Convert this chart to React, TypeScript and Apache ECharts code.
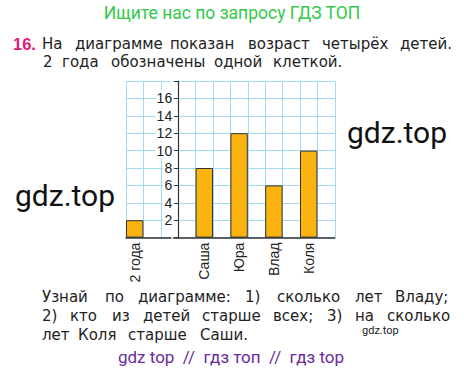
import React, { useEffect, useRef } from "react";
import * as echarts from "echarts";

// ---- data ----
const categories = ["2 года", "", "", "", "Саша", "", "Юра", "", "Влад", "", "Коля", ""];
const ages: (number | string)[] = [2, "-", "-", "-", 8, "-", 12, "-", 6, "-", 10, "-"];
const yMin = 0;
const yMax = 18;
const yStep = 2;

const titleText = "Ищите нас по запросу ГДЗ ТОП";
const taskNumber = "16.";
const introLine1 = ["На", "диаграмме", "показан", "возраст", "четырёх", "детей."];
const introLine2 = ["2", "года", "обозначены", "одной", "клеткой."];
const qLine1 = ["Узнай", "по", "диаграмме:", "1)", "сколько", "лет", "Владу;"];
const qLine2 = ["2)", "кто", "из", "детей", "старше", "всех;", "3)", "на", "сколько"];
const qLine3 = ["лет", "Коля", "старше", "Саши."];
const watermark = "gdz.top";
const footer = "gdz top  //  гдз топ  //  гдз top";

// ---- layout ----
const X1 = [42, 75, 170, 248, 322, 400];
const X2 = [43, 62, 111, 214, 273];
const Q1 = [42, 105, 138, 245, 277, 355, 395];
const Q2 = [42, 70, 112, 143, 202, 273, 327, 355, 387];
const Q3 = [42, 78, 128, 200];

const TXT = "#222";
const PFONT = "DejaVu Sans";

function words(list: string[], xs: number[], y: number) {
  return list.map((w, i) => ({
    type: "text",
    x: xs[i],
    y,
    style: {
      text: w,
      fill: TXT,
      font: `15px '${PFONT}'`,
      textVerticalAlign: "middle",
    },
  }));
}

export default function App() {
  const ref = useRef<HTMLDivElement>(null);
  useEffect(() => {
    if (!ref.current) return;
    const chart = echarts.init(ref.current, null, { renderer: "svg" });
    const cell = 17.4;
    const gridLeft = 126;
    const gridTop = 81;
    const option: any = {
      animation: false,
      backgroundColor: "#fff",
      grid: {
        left: gridLeft,
        top: gridTop,
        width: cell * categories.length,
        height: cell * ((yMax - yMin) / yStep),
      },
      xAxis: {
        type: "category",
        data: categories,
        boundaryGap: true,
        axisLine: { show: true, lineStyle: { color: "#333", width: 1.5 } },
        axisTick: { show: false },
        splitLine: { show: true, interval: 0, lineStyle: { color: "#9fdcf2", width: 1 } },
        axisLabel: {
          interval: 0,
          rotate: 90,
          margin: 5,
          fontSize: 14,
          color: TXT,
          fontFamily: "Liberation Sans",
        },
      },
      yAxis: {
        type: "value",
        min: yMin,
        max: yMax,
        interval: yStep,
        offset: -cell * 3,
        axisLine: { show: true, lineStyle: { color: "#333", width: 1.2 } },
        axisTick: { show: true, length: 4, lineStyle: { color: "#333" } },
        splitLine: { show: true, lineStyle: { color: "#9fdcf2", width: 1 } },
        axisLabel: {
          margin: 5,
          fontSize: 14,
          color: TXT,
          fontFamily: "Liberation Sans",
          backgroundColor: "#fff",
          padding: [1, 1],
          formatter: (v: number) => (v === yMin || v === yMax ? "" : String(v)),
        },
      },
      series: [
        {
          type: "bar",
          data: ages,
          barWidth: "100%",
          itemStyle: { color: "#fbb40f", borderColor: "#333", borderWidth: 1 },
          z: 3,
        },
      ],
      graphic: [
        {
          type: "text",
          x: 232,
          y: 13,
          style: {
            text: titleText,
            fill: "#33c94a",
            font: "17.5px Roboto",
            textAlign: "center",
            textVerticalAlign: "middle",
          },
        },
        {
          type: "text",
          x: 13,
          y: 44,
          style: {
            text: taskNumber,
            fill: "#e0187c",
            font: "bold 16.5px 'Liberation Sans'",
            textVerticalAlign: "middle",
          },
        },
        ...words(introLine1, X1, 44),
        ...words(introLine2, X2, 62),
        ...words(qLine1, Q1, 297),
        ...words(qLine2, Q2, 316),
        ...words(qLine3, Q3, 335),
        {
          type: "text",
          x: 347,
          y: 132,
          style: { text: watermark, fill: "#111", font: "30px Roboto", textVerticalAlign: "middle" },
        },
        {
          type: "text",
          x: 15,
          y: 195,
          style: { text: watermark, fill: "#111", font: "30px Roboto", textVerticalAlign: "middle" },
        },
        {
          type: "text",
          x: 362,
          y: 330,
          style: { text: watermark, fill: "#222", font: "11px Roboto", textVerticalAlign: "middle" },
        },
        {
          type: "text",
          x: 231,
          y: 357,
          style: {
            text: footer,
            fill: "#6b2aa0",
            font: "17px Roboto",
            textAlign: "center",
            textVerticalAlign: "middle",
          },
        },
      ],
    };
    chart.setOption(option);
    return () => chart.dispose();
  }, []);
  return (
    <div
      ref={ref}
      style={{ position: "absolute", left: 0, top: 0, width: 464, height: 372 }}
    />
  );
}
